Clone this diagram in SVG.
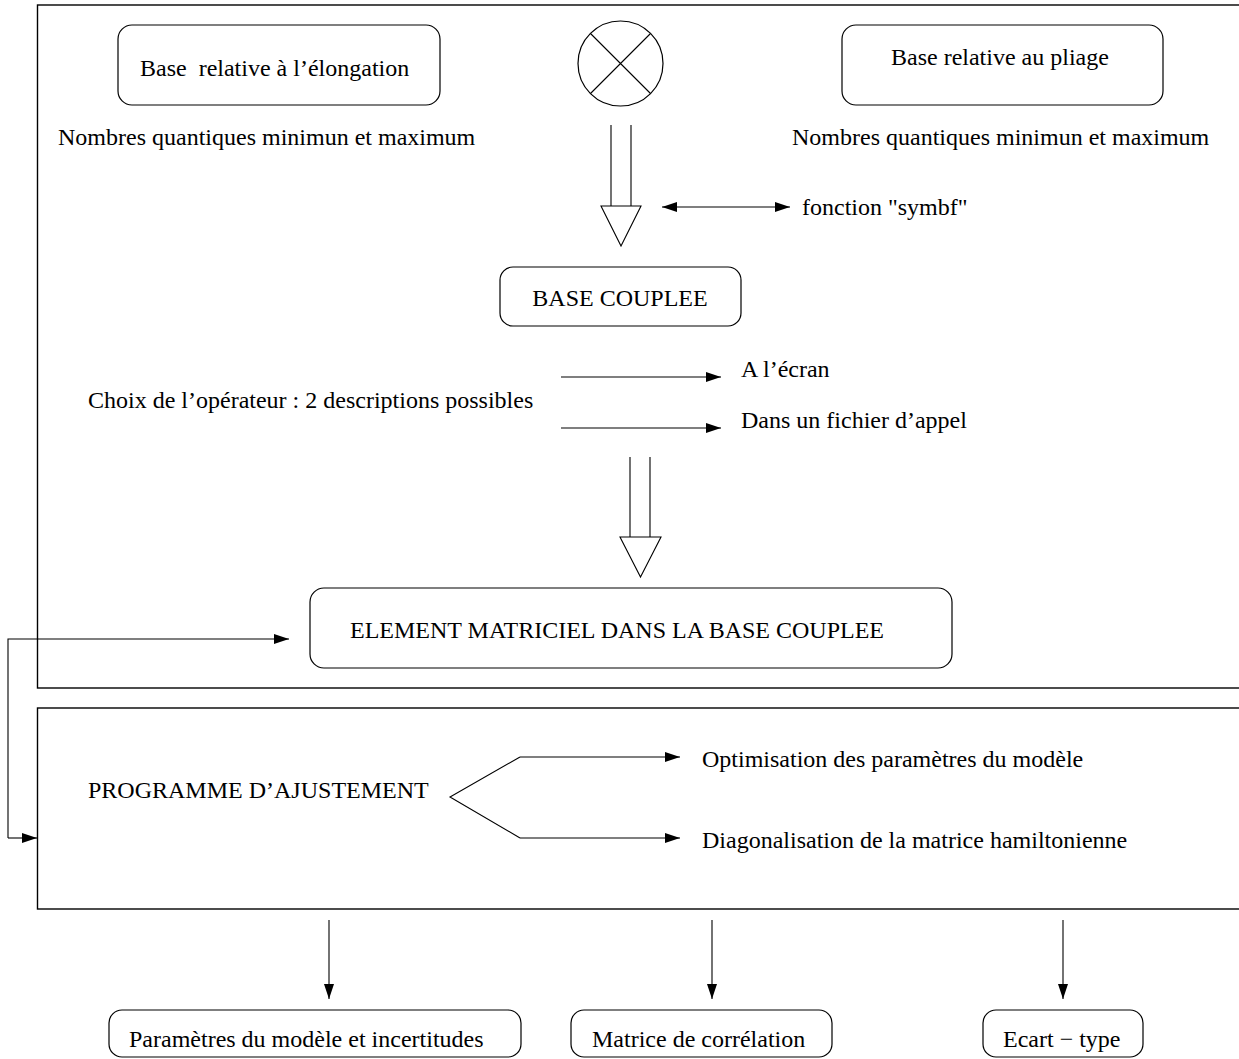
<svg xmlns="http://www.w3.org/2000/svg" width="1239" height="1059" viewBox="0 0 1239 1059">
<style>
text{font-family:"Liberation Serif","Times New Roman",serif;font-size:24px;fill:#000}
.box{fill:none;stroke:#000;stroke-width:1.2}
.frame{fill:none;stroke:#000;stroke-width:1.4}
.ln{fill:none;stroke:#000;stroke-width:1.1}
.arr{fill:none;stroke:#000;stroke-width:1.1;marker-end:url(#ah)}
.mid{text-anchor:middle}
</style>
<defs>
<marker id="ah" markerUnits="userSpaceOnUse" markerWidth="16" markerHeight="12" refX="15" refY="5" orient="auto-start-reverse">
<path d="M0,0 L15,5 L0,10 z" fill="#000"/>
</marker>
</defs>
<rect width="1239" height="1059" fill="#fff"/>
<g id="frame-top"><rect class="frame" x="37.5" y="5" width="1220" height="683"/></g>
<g id="frame-bottom"><rect class="frame" x="37.5" y="708" width="1220" height="201"/></g>
<g id="base-elongation">
<rect class="box" x="118" y="25" width="322" height="80" rx="14"/>
<text x="140" y="76" xml:space="preserve">Base  relative à l’élongation</text>
</g>
<g id="nombres-left"><text x="58" y="145">Nombres quantiques minimun et maximum</text></g>
<g id="produit">
<circle class="box" cx="620.5" cy="63.5" r="42.5"/>
<path class="ln" d="M590.5,33.5 L650.5,93.5 M650.5,33.5 L590.5,93.5"/>
</g>
<g id="base-pliage">
<rect class="box" x="842" y="25" width="321" height="80" rx="14"/>
<text x="891" y="65">Base relative au pliage</text>
</g>
<g id="nombres-right"><text x="792" y="145">Nombres quantiques minimun et maximum</text></g>
<g id="symbf"><text x="802" y="215">fonction "symbf"</text></g>
<g id="base-couplee">
<rect class="box" x="500" y="267" width="241" height="59" rx="13"/>
<text class="mid" x="620" y="306">BASE COUPLEE</text>
</g>
<g id="choix"><text x="88" y="408">Choix de l’opérateur : 2 descriptions possibles</text></g>
<g id="ecran"><text x="741" y="377">A l’écran</text></g>
<g id="fichier"><text x="741" y="428">Dans un fichier d’appel</text></g>
<g id="element">
<rect class="box" x="310" y="588" width="642" height="80" rx="14"/>
<text class="mid" x="617" y="638">ELEMENT MATRICIEL DANS LA BASE COUPLEE</text>
</g>
<g id="programme"><text x="88" y="798">PROGRAMME D’AJUSTEMENT</text></g>
<g id="optimisation"><text x="702" y="767">Optimisation des paramètres du modèle</text></g>
<g id="diagonalisation"><text x="702" y="848">Diagonalisation de la matrice hamiltonienne</text></g>
<g id="parametres">
<rect class="box" x="109" y="1010" width="412" height="47" rx="13"/>
<text x="129" y="1047">Paramètres du modèle et incertitudes</text>
</g>
<g id="correlation">
<rect class="box" x="571" y="1010" width="261" height="47" rx="13"/>
<text x="592" y="1047">Matrice de corrélation</text>
</g>
<g id="ecart">
<rect class="box" x="983" y="1010" width="160" height="47" rx="13"/>
<text x="1003" y="1047">Ecart − type</text>
</g>
<g id="connectors">
<path class="ln" d="M611,125 V206 M631,125 V206"/>
<path class="ln" fill="#fff" d="M601,206 H641 L621,246 Z"/>
<path class="arr" style="marker-start:url(#ah)" d="M662,207 H790"/>
<path class="arr" d="M561,377 H721"/>
<path class="arr" d="M561,428 H721"/>
<path class="ln" d="M630,457 V537 M650,457 V537"/>
<path class="ln" fill="#fff" d="M620,537 H661 L640.5,577 Z"/>
<path class="arr" d="M8,838 V639 H289"/>
<path class="arr" d="M8,838 H37"/>
<path class="ln" d="M520,757 L450,797 L520,838"/>
<path class="arr" d="M520,757 H680"/>
<path class="arr" d="M520,838 H680"/>
<path class="arr" d="M329,920 V999"/>
<path class="arr" d="M712,920 V999"/>
<path class="arr" d="M1063,920 V999"/>
</g>
</svg>
